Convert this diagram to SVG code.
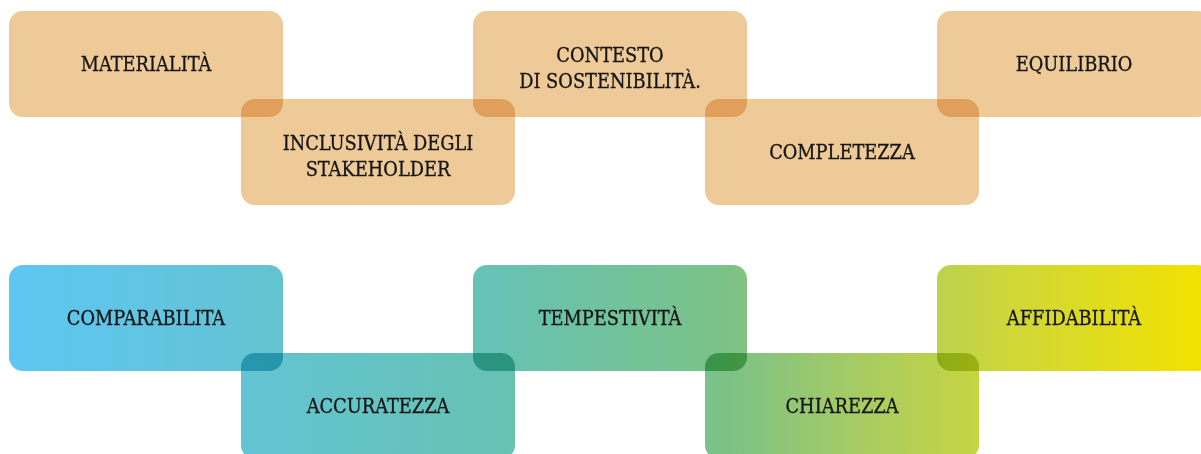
<svg xmlns="http://www.w3.org/2000/svg" width="1201" height="454" viewBox="0 0 1201 454">
<defs>
<linearGradient id="g" gradientUnits="userSpaceOnUse" x1="9" y1="0" x2="1201" y2="0">
<stop offset="0" stop-color="#5dc6f2"/>
<stop offset="0.15" stop-color="#62c4dd"/>
<stop offset="0.28" stop-color="#64c3c6"/>
<stop offset="0.41" stop-color="#67c2b4"/>
<stop offset="0.6" stop-color="#7bc287"/>
<stop offset="0.71" stop-color="#a5cb64"/>
<stop offset="0.83" stop-color="#cdd63c"/>
<stop offset="1" stop-color="#f2e200"/>
</linearGradient>
</defs>
<style>
.b{mix-blend-mode:multiply}
.o{fill:#efca99}
.c{fill:url(#g)}
text{font-family:"DejaVu Serif Condensed","DejaVu Serif","Liberation Serif",serif;font-stretch:condensed;font-size:19.8px;fill:#151515;stroke:#151515;stroke-width:0.3px;text-anchor:middle}
</style>
<rect width="1201" height="454" fill="#ffffff"/>
<g id="materialita" class="b"><rect class="o" x="9" y="11" width="274" height="106" rx="14"/><text x="146" y="71">MATERIALITÀ</text></g>
<g id="inclusivita" class="b"><rect class="o" x="241" y="99" width="274" height="106" rx="14"/><text x="378" y="150">INCLUSIVITÀ DEGLI</text><text x="378" y="176">STAKEHOLDER</text></g>
<g id="contesto" class="b"><rect class="o" x="473" y="11" width="274" height="106" rx="14"/><text x="610" y="62">CONTESTO</text><text x="610" y="88">DI SOSTENIBILITÀ.</text></g>
<g id="completezza" class="b"><rect class="o" x="705" y="99" width="274" height="106" rx="14"/><text x="842" y="159">COMPLETEZZA</text></g>
<g id="equilibrio" class="b"><rect class="o" x="937" y="11" width="274" height="106" rx="14"/><text x="1074" y="71">EQUILIBRIO</text></g>
<g id="comparabilita" class="b"><rect class="c" x="9" y="265" width="274" height="106" rx="14"/><text x="146" y="325">COMPARABILITA</text></g>
<g id="accuratezza" class="b"><rect class="c" x="241" y="353" width="274" height="106" rx="14"/><text x="378" y="413">ACCURATEZZA</text></g>
<g id="tempestivita" class="b"><rect class="c" x="473" y="265" width="274" height="106" rx="14"/><text x="610" y="325">TEMPESTIVITÀ</text></g>
<g id="chiarezza" class="b"><rect class="c" x="705" y="353" width="274" height="106" rx="14"/><text x="842" y="413">CHIAREZZA</text></g>
<g id="affidabilita" class="b"><rect class="c" x="937" y="265" width="274" height="106" rx="14"/><text x="1074" y="325">AFFIDABILITÀ</text></g>
<g id="connectors"/>
</svg>
